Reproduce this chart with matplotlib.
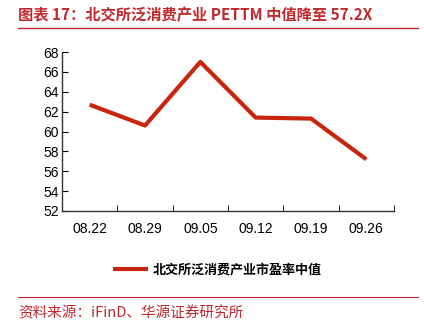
import matplotlib.pyplot as plt
import numpy as np

dates = ['08.22', '08.29', '09.05', '09.12', '09.19', '09.26']
pe_median = [62.7, 60.6, 67.0, 61.4, 61.3, 57.2]

plt.rcParams['font.family'] = ['Liberation Sans', 'Noto Sans CJK SC', 'DejaVu Sans']

fig = plt.figure(figsize=(4.24, 3.29), dpi=100)
W, H = 424, 329
ax = fig.add_axes([62 / W, 1 - 211 / H, (394 - 62) / W, (211 - 52) / H])

x = np.arange(len(dates))
line, = ax.plot(x, pe_median, color='#C8250F', lw=3, solid_capstyle='butt',
                label='北交所泛消费产业市盈率中值')
ax.set_xlim(-0.5, len(dates) - 0.5)
ax.set_ylim(52, 68)
ax.set_yticks(range(52, 69, 2))
ax.set_xticks(x)
ax.set_xticklabels(dates)
ax.set_xticks(np.arange(-0.5, len(dates)), minor=True)
ax.tick_params(axis='x', which='major', length=0, pad=8, labelsize=10)
ax.tick_params(axis='x', which='minor', length=4, direction='in')
ax.tick_params(axis='y', length=4, direction='in', labelsize=10, pad=2)
for s in ['top', 'right']:
    ax.spines[s].set_visible(False)
for s in ['left', 'bottom']:
    ax.spines[s].set_color('#333333')
    ax.spines[s].set_linewidth(1)

leg = fig.legend(handles=[line], loc='center left', bbox_to_anchor=(101 / W, 1 - 270 / H),
                 frameon=False, handlelength=2.7, handletextpad=0.35,
                 prop={'family': 'Noto Sans CJK SC', 'size': 9.4, 'weight': 'bold'})

red = '#C0282C'
fig.text(18 / W, 1 - 15 / H, '图表 17：北交所泛消费产业 PETTM 中值降至 57.2X', color=red,
         fontsize=11, fontweight='bold', family=['Noto Sans CJK SC', 'DejaVu Sans'],
         va='center', ha='left')
fig.add_artist(plt.Line2D([18 / W, 418 / W], [1 - 28 / H, 1 - 28 / H], color=red, lw=1))
fig.add_artist(plt.Line2D([18 / W, 418 / W], [1 - 297 / H, 1 - 297 / H], color=red, lw=0.8))
fig.text(18 / W, 1 - 313 / H, '资料来源：iFinD、华源证券研究所', color=red, fontsize=10.5,
         family=['Noto Sans CJK SC', 'DejaVu Sans'], va='center', ha='left')

fig.savefig('out.png', dpi=100)
